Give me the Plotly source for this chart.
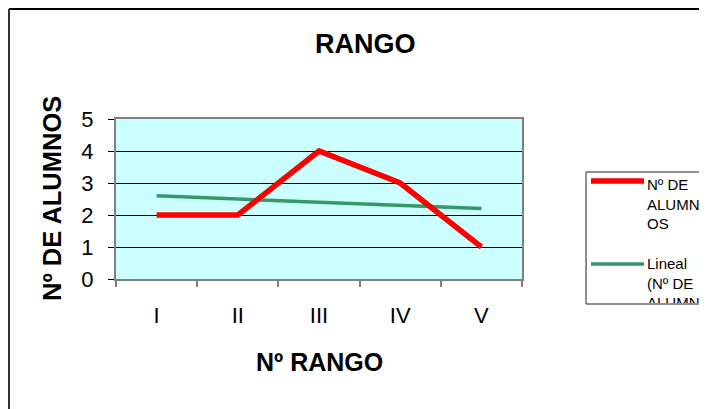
import plotly.graph_objects as go

# datos
rangos = ["I", "II", "III", "IV", "V"]
alumnos = [2, 2, 4, 3, 1]
lineal = [2.6, 2.5, 2.4, 2.3, 2.2]   # línea de tendencia
y_ticks = [0, 1, 2, 3, 4, 5]

OFF = 8  # margen del <body> de la página
W, H = 707 - OFF, 409 - OFF
L, R, T, B = 116 - OFF, 185, 119 - OFF, 130
FONT = "Liberation Sans, Arial, sans-serif"


# posiciones en píxeles de la página -> coordenadas "paper"
def px(x):
    return (x - OFF - L) / (W - L - R)


def py(y):
    return 1 - (y - OFF - T) / (H - T - B)


fig = go.Figure()
fig.add_trace(go.Scatter(
    x=rangos, y=lineal, mode="lines",
    line=dict(color="#339966", width=3.5), name="Lineal (Nº DE ALUMNOS)",
))
fig.add_trace(go.Scatter(
    x=rangos, y=alumnos, mode="lines",
    line=dict(color="#FF0000", width=5.5), name="Nº DE ALUMNOS",
))

shapes = [
    # borde del gráfico (arriba e izquierda)
    dict(type="line", xref="paper", yref="paper", x0=px(9), x1=px(720), y0=py(9), y1=py(9),
         line=dict(color="black", width=2)),
    dict(type="line", xref="paper", yref="paper", x0=px(9), x1=px(9), y0=py(9), y1=py(420),
         line=dict(color="#333333", width=2)),
    # leyenda
    dict(type="rect", xref="paper", yref="paper", x0=px(586), x1=px(730), y0=py(172), y1=py(304),
         line=dict(color="#222222", width=1), fillcolor="white"),
    dict(type="line", xref="paper", yref="paper", x0=px(591), x1=px(644), y0=py(181), y1=py(181),
         line=dict(color="#FF0000", width=5.5)),
    dict(type="line", xref="paper", yref="paper", x0=px(591), x1=px(644), y0=py(264), y1=py(264),
         line=dict(color="#339966", width=3.5)),
]

annotations = [
    dict(text="<b>RANGO</b>", x=px(365), y=py(44), xref="paper", yref="paper",
         xanchor="center", yanchor="middle", showarrow=False,
         font=dict(size=27, color="black", family=FONT)),
    dict(text="<b>Nº DE ALUMNOS</b>", x=px(52), y=py(199), xref="paper", yref="paper",
         xanchor="center", yanchor="middle", textangle=-90, showarrow=False,
         font=dict(size=25.5, color="black", family=FONT)),
    dict(text="<b>Nº RANGO</b>", x=px(319), y=py(362), xref="paper", yref="paper",
         xanchor="center", yanchor="middle", showarrow=False,
         font=dict(size=25, color="black", family=FONT)),
    dict(text="Nº DE<br>ALUMN<br>OS", x=px(645), y=py(174), xref="paper", yref="paper",
         xanchor="left", yanchor="top", align="left", showarrow=False,
         font=dict(size=15, color="black", family=FONT)),
    dict(text="Lineal<br>(Nº DE<br>ALUMN", x=px(645), y=py(253), xref="paper", yref="paper",
         xanchor="left", yanchor="top", align="left", valign="top", height=48, width=80,
         showarrow=False, font=dict(size=15, color="black", family=FONT)),
]

fig.update_layout(
    width=W, height=H,
    margin=dict(l=L, r=R, t=T, b=B),
    paper_bgcolor="white", plot_bgcolor="#CCFFFF",
    showlegend=False,
    font=dict(family=FONT, color="black"),
    shapes=shapes, annotations=annotations,
    xaxis=dict(
        type="category", range=[-0.5, 4.5], tickson="boundaries",
        showgrid=False, showline=True, linecolor="#808080", linewidth=2, mirror=True,
        ticks="outside", ticklen=6, tickwidth=2, tickcolor="#808080",
        tickfont=dict(size=22), ticklabelstandoff=16,
    ),
    yaxis=dict(
        range=[0, 5], tickvals=y_ticks, showgrid=True, gridcolor="black", gridwidth=1,
        showline=True, linecolor="#808080", linewidth=2, mirror=True,
        ticks="outside", ticklen=6, tickwidth=1, tickcolor="black",
        tickfont=dict(size=22), ticklabelstandoff=10, zeroline=False,
    ),
)

fig.write_html("out.html")
